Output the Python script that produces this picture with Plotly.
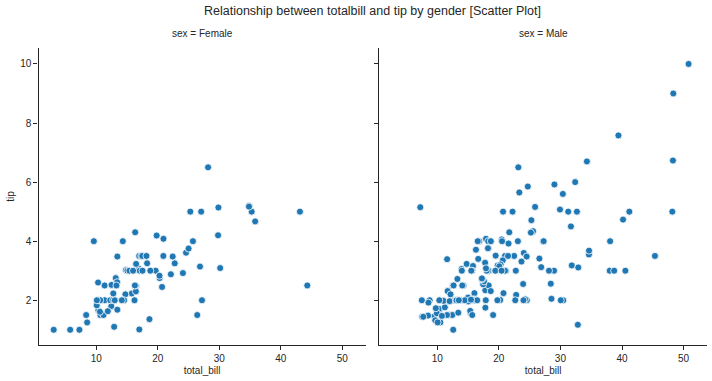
import plotly.graph_objects as go

female_bill = [16.99, 24.59, 35.26, 14.83, 10.33, 16.97, 20.29, 15.77, 19.65, 15.06, 20.69, 16.93,
               10.29, 34.81, 26.41, 16.45, 3.07, 17.07, 26.86, 25.28, 14.73, 10.07, 34.83, 5.75,
               16.32, 22.75, 11.35, 15.38, 44.3, 22.42, 20.92, 14.31, 7.25, 25.71, 17.31, 10.65,
               12.43, 24.08, 13.42, 12.48, 29.8, 14.52, 11.38, 20.27, 11.17, 12.26, 18.26, 8.51,
               10.33, 14.15, 13.16, 17.47, 27.05, 16.43, 8.35, 18.64, 11.87, 29.85, 25.0, 13.39,
               16.21, 17.51, 10.59, 10.63, 9.6, 20.9, 18.15, 19.81, 43.11, 13.0, 12.74, 13.0,
               16.4, 16.47, 12.76, 13.27, 28.17, 12.9, 30.14, 13.42, 15.98, 16.27, 10.09, 22.12,
               35.83, 27.18, 18.78]
female_tip = [1.01, 3.61, 5.0, 3.02, 1.67, 3.5, 2.75, 2.23, 3.0, 3.0, 2.45, 3.07,
              2.6, 5.2, 1.5, 2.47, 1.0, 3.0, 3.14, 5.0, 2.2, 1.83, 5.17, 1.0,
              4.3, 3.25, 2.5, 3.0, 2.5, 3.48, 4.08, 4.0, 1.0, 4.0, 3.5, 1.5,
              1.8, 2.92, 1.68, 2.52, 4.2, 2.0, 2.0, 2.83, 1.5, 2.0, 3.25, 1.25,
              2.0, 2.0, 2.75, 3.5, 5.0, 2.3, 1.5, 1.36, 1.63, 5.14, 3.75, 2.61,
              2.0, 3.0, 1.61, 2.0, 4.0, 3.5, 3.5, 4.19, 5.0, 2.0, 2.01, 2.0,
              2.5, 3.23, 2.23, 2.5, 6.5, 1.1, 3.09, 3.48, 3.0, 2.5, 2.0, 2.88,
              4.67, 2.0, 3.0]

male_bill = [10.34, 21.01, 23.68, 25.29, 8.77, 26.88, 15.04, 14.78, 10.27, 15.42, 18.43, 21.58,
             16.29, 20.65, 17.92, 39.42, 19.82, 17.81, 13.37, 12.69, 21.7, 9.55, 18.35, 17.78,
             24.06, 16.31, 18.69, 31.27, 16.04, 17.46, 13.94, 9.68, 30.4, 18.29, 22.23, 32.4,
             28.55, 18.04, 12.54, 9.94, 25.56, 19.49, 38.01, 11.24, 48.27, 20.29, 13.81, 11.02,
             18.29, 17.59, 20.08, 20.23, 15.01, 12.02, 10.51, 17.92, 27.2, 22.76, 17.29, 19.44,
             16.66, 32.68, 15.98, 13.03, 18.28, 24.71, 21.16, 28.97, 22.49, 40.17, 27.28, 12.03,
             21.01, 12.46, 15.36, 20.49, 25.21, 18.24, 14.0, 38.07, 23.95, 29.93, 11.69, 14.26,
             15.95, 8.52, 22.82, 19.08, 16.0, 34.3, 41.19, 9.78, 7.51, 14.07, 13.13, 17.26,
             24.55, 19.77, 48.17, 16.49, 21.5, 12.66, 13.81, 24.52, 20.76, 31.71, 50.81, 15.81,
             7.25, 31.85, 16.82, 32.9, 17.89, 14.48, 34.63, 34.65, 23.33, 45.35, 23.17, 40.55,
             20.69, 30.46, 23.1, 15.69, 28.44, 15.48, 16.58, 7.56, 10.34, 13.51, 18.71, 20.53,
             26.59, 38.73, 24.27, 30.06, 25.89, 48.33, 28.15, 11.59, 7.74, 12.16, 8.58, 13.42,
             20.45, 13.28, 24.01, 15.69, 11.61, 10.77, 15.53, 10.07, 12.6, 32.83, 29.03, 22.67,
             17.82]
male_tip = [1.66, 3.5, 3.31, 4.71, 2.0, 3.12, 1.96, 3.23, 1.71, 1.57, 3.0, 3.92,
            3.71, 3.35, 4.08, 7.58, 3.18, 2.34, 2.0, 2.0, 4.3, 1.45, 2.5, 3.27,
            3.6, 2.0, 2.31, 5.0, 2.24, 2.54, 3.06, 1.32, 5.6, 3.0, 5.0, 6.0,
            2.05, 3.0, 2.5, 1.56, 4.34, 3.51, 3.0, 1.76, 6.73, 3.21, 2.0, 1.98,
            3.76, 2.64, 3.15, 2.01, 2.09, 1.97, 1.25, 3.08, 4.0, 3.0, 2.71, 3.0,
            3.4, 5.0, 2.03, 2.0, 4.0, 5.85, 3.0, 3.0, 3.5, 4.73, 4.0, 1.5,
            3.0, 1.5, 1.64, 4.06, 4.29, 3.76, 3.0, 4.0, 2.55, 5.07, 2.31, 2.5,
            2.0, 1.48, 2.18, 1.5, 2.0, 6.7, 5.0, 1.73, 2.0, 2.5, 2.0, 2.74,
            2.0, 2.0, 5.0, 2.0, 3.5, 2.5, 2.0, 3.48, 2.24, 4.5, 10.0, 3.16,
            5.15, 3.18, 4.0, 3.11, 2.0, 2.0, 3.55, 3.68, 5.65, 3.5, 6.5, 3.0,
            5.0, 2.0, 4.0, 1.5, 2.56, 2.02, 4.0, 1.44, 2.0, 2.0, 4.0, 4.0,
            3.41, 3.0, 2.03, 2.0, 5.16, 9.0, 3.0, 1.5, 1.44, 2.2, 1.92, 1.58,
            3.0, 2.72, 2.0, 3.0, 3.39, 1.47, 3.0, 1.25, 1.0, 1.17, 5.92, 2.0,
            1.75]

x_ticks = [10, 20, 30, 40, 50]
y_ticks = [2, 4, 6, 8, 10]

FONT = "Liberation Sans, Arial, sans-serif"
INK = "#262626"
BLUE = "#1f77b4"

marker = dict(color=BLUE, size=7, line=dict(color="white", width=0.8))

fig = go.Figure()
fig.add_trace(go.Scatter(x=female_bill, y=female_tip, mode="markers", marker=marker,
                         xaxis="x", yaxis="y", showlegend=False))
fig.add_trace(go.Scatter(x=male_bill, y=male_tip, mode="markers", marker=marker,
                         xaxis="x2", yaxis="y2", showlegend=False))

axis_common = dict(showline=True, linecolor=INK, linewidth=1.2, ticks="outside",
                   ticklen=4, tickwidth=1, tickcolor=INK, showgrid=False, zeroline=False,
                   tickfont=dict(family=FONT, size=10, color=INK), mirror=False)

L, R = 38, 5
W = 712 - L - R
def d(px):
    return (px - L) / W

fig.update_layout(
    width=712, height=381,
    margin=dict(l=L, r=R, t=48, b=36),
    paper_bgcolor="white", plot_bgcolor="white",
    font=dict(family=FONT, color=INK),
    title=dict(text="Relationship between totalbill and tip by gender [Scatter Plot]",
               x=0.5, xref="paper", xanchor="center", y=1 - 11 / 381, yanchor="middle",
               font=dict(family=FONT, size=12.5, color=INK)),
    xaxis=dict(domain=[max(0, d(38.5)), d(365.7)], range=[0.6, 53.8], tickvals=x_ticks,
               title=dict(text="total_bill", font=dict(family=FONT, size=10, color=INK), standoff=3),
               anchor="y", **axis_common),
    xaxis2=dict(domain=[d(379.3), 1.0], range=[0.6, 53.8], tickvals=x_ticks,
                title=dict(text="total_bill", font=dict(family=FONT, size=10, color=INK), standoff=3),
                anchor="y2", **axis_common),
    yaxis=dict(domain=[0, 1], range=[0.485, 10.54], tickvals=y_ticks,
               title=dict(text="tip", font=dict(family=FONT, size=10, color=INK), standoff=3),
               anchor="x", **axis_common),
    yaxis2=dict(domain=[0, 1], range=[0.485, 10.54], tickvals=y_ticks, showticklabels=False,
                matches="y", anchor="x2", **axis_common),
    annotations=[
        dict(text="sex = Female", xref="paper", yref="paper",
             x=(max(0, d(38.5)) + d(365.7)) / 2, y=1, yshift=7, showarrow=False,
             xanchor="center", yanchor="bottom", font=dict(family=FONT, size=10, color=INK)),
        dict(text="sex = Male", xref="paper", yref="paper",
             x=(d(379.3) + 1.0) / 2, y=1, yshift=7, showarrow=False,
             xanchor="center", yanchor="bottom", font=dict(family=FONT, size=10, color=INK)),
    ],
)

fig.write_html("out.html", config={"displayModeBar": False},
               post_script="document.body.style.margin='0';")
